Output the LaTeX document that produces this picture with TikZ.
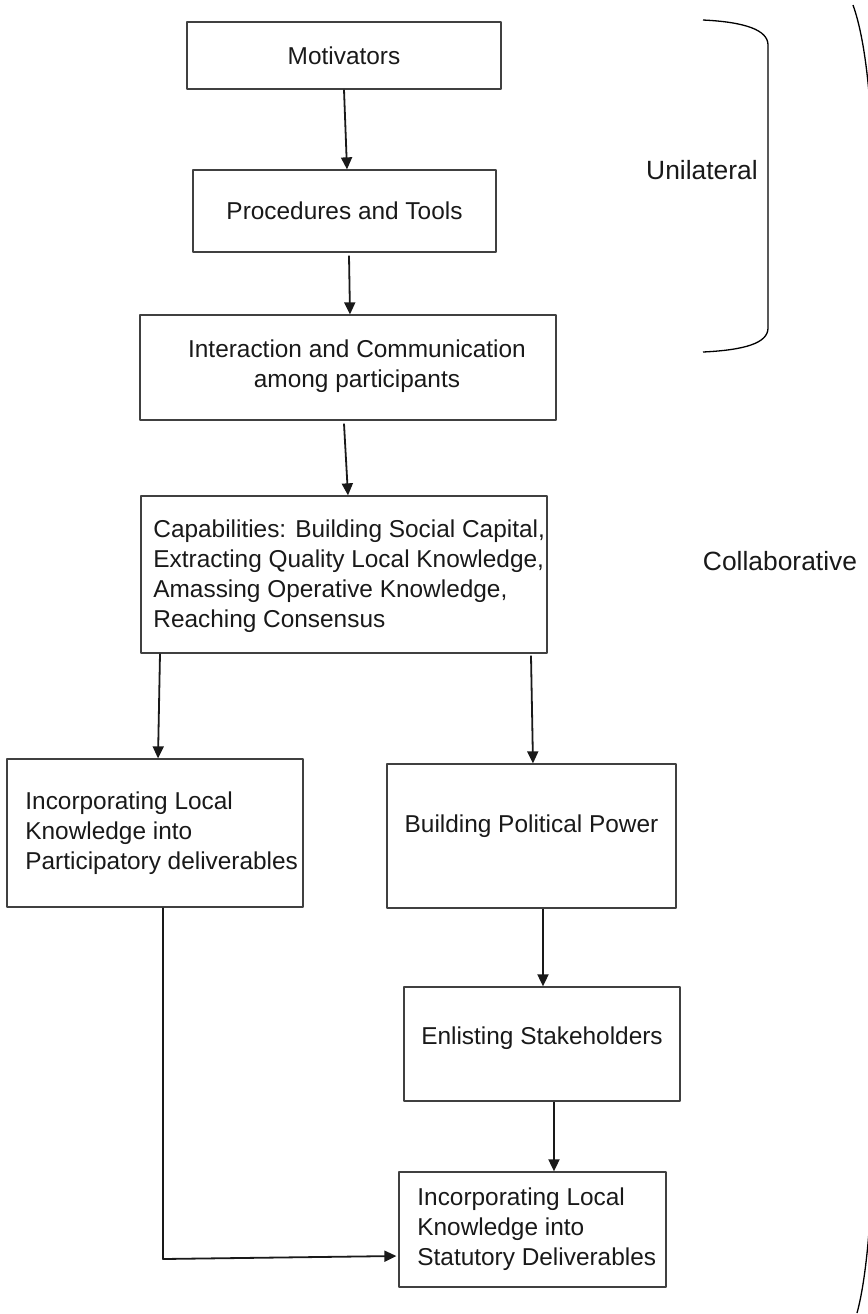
\documentclass[tikz,border=0pt]{standalone}
\usepackage{fontspec}
\setmainfont{Liberation Sans}
\usetikzlibrary{positioning,arrows.meta}

\begin{document}
\begin{tikzpicture}[x=0.5pt,y=-0.5pt,line join=round,
  box/.style={draw=black!75,line width=0.65pt,inner sep=0pt,font=\fontsize{12.2}{15}\selectfont,text=black!90},
  txt/.style={font=\fontsize{12.2}{15}\selectfont,align=left,inner sep=0pt,text=black!90},
  side/.style={font=\fontsize{13.2}{16}\selectfont,inner sep=0pt,text=black!90},
  link/.style={-{Triangle[length=6pt,width=5.5pt]},line width=0.9pt,black!90}]
  % page frame
  \useasboundingbox (0,0) rectangle (868,1314);

  % boxes of the chain
  \node[box,minimum width=157pt,minimum height=33.5pt] (mot) at (344,55.5) {Motivators};
  \node[box,minimum width=151.5pt,minimum height=41pt] (proc) at (344.5,211) {Procedures and Tools};
  \node[box,minimum width=208pt,minimum height=52.5pt] (inter) at (348,367.5) {};
  \node[txt,align=center] (inter-t) at (357,366) {Interaction and Communication\\among participants};
  \node[box,minimum width=203pt,minimum height=78.5pt] (cap) at (344,574.5) {};
  \node[txt,anchor=west] (cap-t) at (153,576) {Capabilities: Building Social Capital,\\Extracting Quality Local Knowledge,\\Amassing Operative Knowledge,\\Reaching Consensus};

  % two branches
  \node[box,minimum width=148pt,minimum height=74pt] (part) at (155,833) {};
  \node[txt,anchor=west] (part-t) at (25,833) {Incorporating Local\\Knowledge into\\Participatory deliverables};
  \node[box,minimum width=144.5pt,minimum height=72pt] (pow) at (531.5,836) {};
  \node[txt] (pow-t) at (531.5,826) {Building Political Power};
  \node[box,minimum width=138pt,minimum height=57pt] (enl) at (542,1044) {};
  \node[txt] (enl-t) at (542,1038) {Enlisting Stakeholders};
  \node[box,minimum width=133.5pt,minimum height=57.5pt] (stat) at (532.5,1229.5) {};
  \node[txt,anchor=west] (stat-t) at (417,1229) {Incorporating Local\\Knowledge into\\Statutory Deliverables};

  % side labels
  \node[side] (uni) at (702,170) {Unilateral};
  \node[side] (coll) at (780,561) {Collaborative};

  % arrows
  \draw[link] (mot.south) -- ([xshift=1.25pt]proc.north);
  \draw[link] ([xshift=2.25pt,yshift=-1.5pt]proc.south) -- ([xshift=1pt]inter.north);
  \draw[link] ([xshift=-2pt,yshift=-1.5pt]inter.south) -- ([xshift=2pt]cap.north);
  \draw[link] ([xshift=-92pt]cap.south) -- ([xshift=1.5pt]part.north);
  \draw[link] ([xshift=93.5pt,yshift=-1pt]cap.south) -- ([xshift=0.75pt]pow.north);
  \draw[link] ([xshift=5.75pt]pow.south) -- ([xshift=0.5pt]enl.north);
  \draw[link] ([xshift=6pt]enl.south) -- ([xshift=10.75pt]stat.north);
  \coordinate (bend) at (163,1259);
  \draw[link] ([xshift=4pt]part.south) -- (bend) -- ([xshift=-1pt,yshift=-13.25pt]stat.west);

  % brackets
  \draw[line width=0.65pt] (703,20) .. controls (745,22) and (768,30) .. (768,45) -- (768,328)
    .. controls (768,343) and (745,350) .. (703,352);
  \draw[line width=0.65pt] (853,5) .. controls (862,30) and (868,70) .. (871,120) -- (871,1200)
    .. controls (868,1260) and (862,1295) .. (857,1313);
\end{tikzpicture}
\end{document}
